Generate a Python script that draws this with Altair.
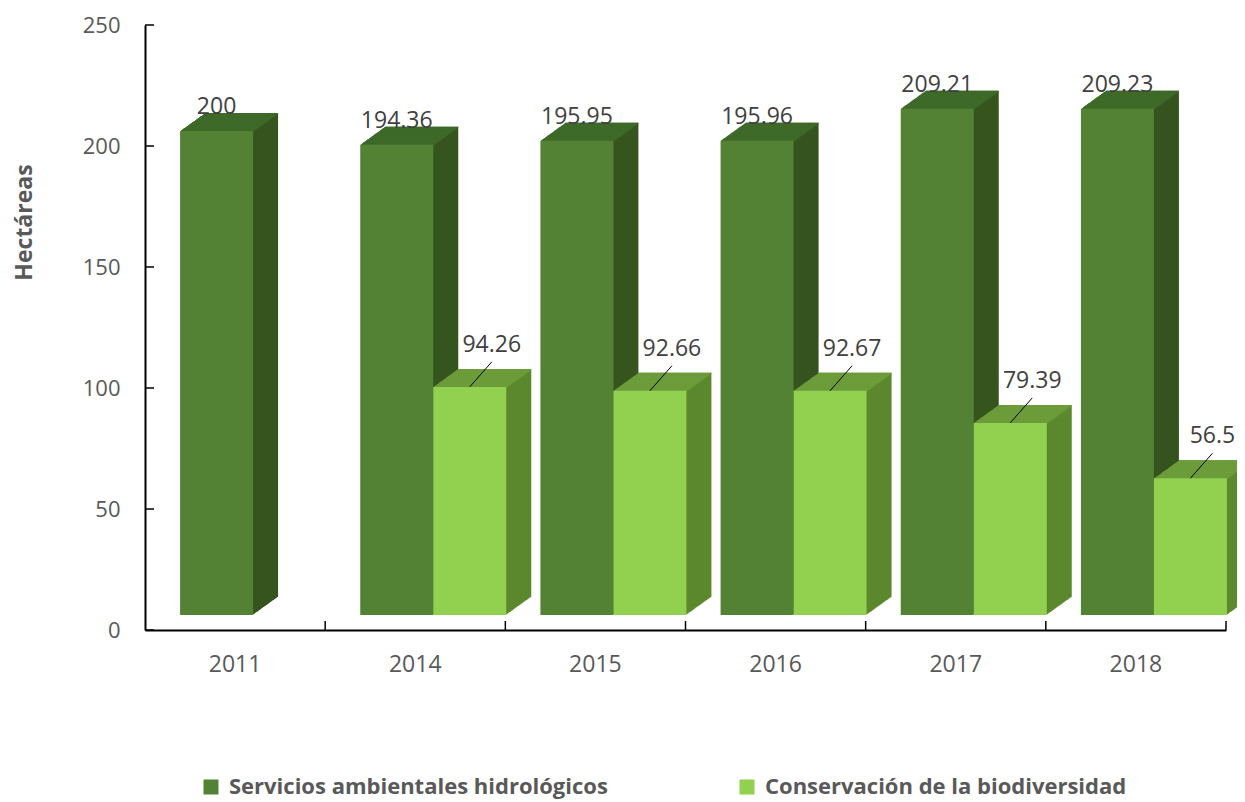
import altair as alt
import pandas as pd

# ---- data ----
years = ["2011", "2014", "2015", "2016", "2017", "2018"]
series_names = ["Servicios ambientales hidrológicos", "Conservación de la biodiversidad"]
servicios = [200, 194.36, 195.95, 195.96, 209.21, 209.23]
conservacion = [None, 94.26, 92.66, 92.67, 79.39, 56.5]
y_ticks = [0, 50, 100, 150, 200, 250]

rows = []
for yr, v in zip(years, servicios):
    rows.append({"year": yr, "series": series_names[0], "value": v, "label": f"{v:g}"})
for yr, v in zip(years, conservacion):
    if v is not None:
        rows.append({"year": yr, "series": series_names[1], "value": v, "label": f"{v:g}"})
df = pd.DataFrame(rows)

# ---- styling ----
FRONT = ["#548235", "#92d050"]
TOP = ["#3f6a28", "#6c9d3b"]
SIDE = ["#36541f", "#5c882e"]
FONT = "Open Sans"
W, H = 1081, 605
BAR_W = 73
CENTER_SHIFT = [-18.5, 54.5]   # front-face centre relative to band centre
LIFT = -15                     # front face lifted above the floor
DEPTH_X, DEPTH_Y = 25, 18
N = 25
LEAD_W = 22

x_enc = alt.X("year:N", sort=years,
              scale=alt.Scale(paddingInner=0, paddingOuter=0),
              axis=alt.Axis(title=None, labelAngle=0, labelFontSize=23, labelFont=FONT,
                            labelColor="#595959", ticks=False, labelPadding=23,
                            domainColor="black", domainWidth=2))
y_enc = alt.Y("value:Q", stack=None,
              scale=alt.Scale(domain=[0, 250], nice=False),
              axis=alt.Axis(values=y_ticks, grid=False, ticks=False, labelPadding=25,
                            labelFontSize=22, labelFont=FONT, labelColor="#595959",
                            domainColor="black", domainWidth=2,
                            title="Hectáreas", titleFont=FONT, titleFontSize=23,
                            titleFontWeight="bold", titleColor="#595959",
                            titleAngle=-90, titleX=-121, titleY=197,
                            titleAlign="center", titleBaseline="middle"))

base = alt.Chart(df)
layers = []

series_base = [base.transform_filter(alt.datum.series == s) for s in series_names]

# side faces (extruded rectangles)
for k in range(N, 0, -1):
    off_y = LIFT - DEPTH_Y * k / N
    for i in range(2):
        layers.append(
            series_base[i].mark_bar(width=BAR_W, color=SIDE[i],
                                    xOffset=CENTER_SHIFT[i] + DEPTH_X * k / N,
                                    yOffset=off_y, y2Offset=off_y)
            .encode(x=x_enc, y=y_enc, y2=alt.datum(0))
        )

# top faces (thin strips)
for k in range(N, 0, -1):
    off_y = LIFT - DEPTH_Y * k / N
    for i in range(2):
        layers.append(
            series_base[i].mark_bar(width=BAR_W, color=TOP[i],
                                    xOffset=CENTER_SHIFT[i] + DEPTH_X * k / N,
                                    yOffset=off_y, y2Offset=off_y + 1.3)
            .encode(x=x_enc, y=y_enc, y2=alt.Y2("value:Q"))
        )

# front faces with legend
for i in range(2):
    layers.append(
        series_base[i].mark_bar(width=BAR_W, xOffset=CENTER_SHIFT[i],
                                yOffset=LIFT, y2Offset=LIFT)
        .encode(x=x_enc, y=y_enc, y2=alt.datum(0),
                color=alt.Color("series:N", sort=series_names,
                                scale=alt.Scale(domain=series_names, range=FRONT),
                                legend=alt.Legend(title=None, orient="none",
                                                  direction="horizontal",
                                                  legendX=55, legendY=751,
                                                  symbolType="square",
                                                  symbolSize=225, symbolStrokeWidth=0,
                                                  labelFont=FONT, labelFontSize=22,
                                                  labelFontWeight="bold",
                                                  labelColor="#595959",
                                                  labelOffset=7, columnPadding=128,
                                                  labelLimit=600)))
    )

# value labels for the dark series
layers.append(
    series_base[0].mark_text(xOffset=CENTER_SHIFT[0], dy=LIFT - DEPTH_Y + 1,
                             baseline="alphabetic", align="center",
                             font=FONT, fontSize=23, color="#404040")
    .encode(x=x_enc, y=y_enc, text="label:N")
)
# leader lines and labels for the light series
layers.append(
    series_base[1].mark_point(shape="M-0.88,1L0.88,-1", size=625, filled=False,
                              stroke="black", strokeWidth=1, opacity=1,
                              xOffset=CENTER_SHIFT[1] + LEAD_W / 2, yOffset=LIFT - 12.5)
    .encode(x=x_enc, y=y_enc)
)
layers.append(
    series_base[1].mark_text(xOffset=CENTER_SHIFT[1] + LEAD_W, dy=-50, baseline="alphabetic",
                             align="center", font=FONT, fontSize=23, color="#404040")
    .encode(x=x_enc, y=y_enc, text="label:N")
)

# inward ticks on the axes
ytick_df = pd.DataFrame({"value": y_ticks})
layers.append(
    alt.Chart(ytick_df).mark_rule(color="black", strokeWidth=1.5)
    .encode(y=alt.Y("value:Q", scale=alt.Scale(domain=[0, 250], nice=False)),
            x=alt.value(0), x2=alt.value(9))
)
xtick_df = pd.DataFrame({"year": years})
layers.append(
    alt.Chart(xtick_df).mark_rule(color="black", strokeWidth=1.5)
    .encode(x=alt.X("year:N", sort=years, bandPosition=1),
            y=alt.value(H - 9), y2=alt.value(H))
)

chart = alt.layer(*layers).properties(
    width=W, height=H,
    autosize=alt.AutoSizeParams(type="none"),
    padding={"left": 137, "top": 17, "right": 11, "bottom": 172},
).configure_view(stroke=None)

chart.save("out.html", embed_options={"renderer": "svg", "actions": False})
